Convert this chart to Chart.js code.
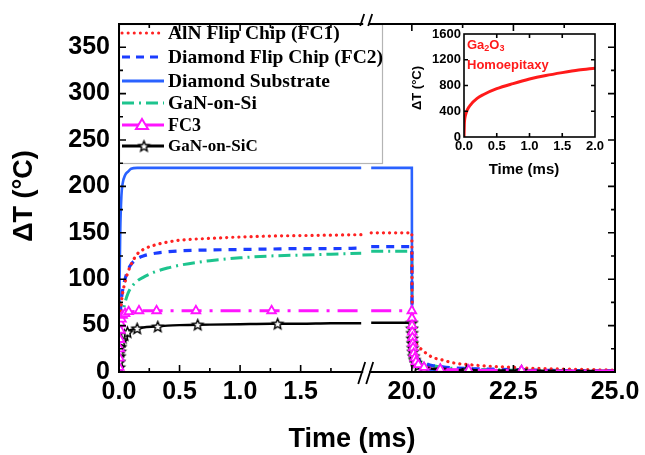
<!DOCTYPE html>
<html>
<head>
<meta charset="utf-8">
<script src="https://cdn.jsdelivr.net/npm/chart.js@4.4.1/dist/chart.umd.min.js"></script>
<style>
  html, body { margin: 0; padding: 0; background: #fff; }
  #wrap { position: relative; width: 645px; height: 455px; }
  #main { position: absolute; left: 0; top: 0; }
  #inset { position: absolute; left: 400px; top: 20px; }
</style>
</head>
<body>
<div id="wrap">
  <canvas id="main" width="645" height="455"></canvas>
  <canvas id="inset" width="215" height="170"></canvas>
</div>
<script>
// time points (ms), shared by all main-plot series
const timeMs = [0, 0.005, 0.01, 0.02, 0.03, 0.05, 0.075, 0.1, 0.15, 0.2, 0.3, 0.4, 0.5, 0.75, 1.0, 1.25, 1.5, 1.75, 2.0,
                19.0, 20.0, 20.005, 20.01, 20.02, 20.05, 20.1, 20.2, 20.3, 20.5, 20.75, 21.0, 21.5, 22.0, 22.5, 23.0, 24.0, 25.0];

const alnFC1     = [0, 40, 60, 75, 85, 97, 108, 116, 127, 132, 137, 140, 142, 144, 145.5, 146.5, 147, 147.5, 148,
                    150, 150, 95, 72, 55, 40, 32, 26, 22, 16, 13, 10, 7.5, 6, 5, 4, 3, 2];
const diamondFC2 = [0, 40, 60, 78, 88, 100, 110, 116, 122, 125, 128, 129.5, 130.5, 131.5, 132, 132.5, 133, 133, 133.5,
                    135, 135, 70, 48, 32, 21, 16, 12, 10, 7, 5.5, 4.5, 3.5, 3, 2.5, 2, 1.5, 1.2];
const diamondSub = [0, 100, 150, 190, 203, 212, 216, 219, 220, 220, 220, 220, 220, 220, 220, 220, 220, 220, 220,
                    220, 220, 60, 32, 16, 8, 5, 3.5, 2.5, 2, 1.5, 1.2, 1, 0.8, 0.7, 0.6, 0.5, 0.5];
const ganOnSi    = [0, 25, 38, 52, 62, 75, 85, 91, 98, 102, 108, 112, 115, 120, 123, 125, 126, 127, 128,
                    130, 130, 62, 42, 29, 19, 14, 11, 9, 7, 5, 4, 3, 2.5, 2, 1.8, 1.4, 1];
const fc3        = [0, 35, 50, 58, 61, 63, 64.5, 65, 65.5, 66, 66, 66, 66, 66, 66, 66, 66, 66, 66,
                    66, 66, 45, 35, 26, 16, 11, 7, 5.5, 4, 3, 2.5, 2, 1.8, 1.5, 1.3, 1.1, 1];
const ganOnSiC   = [0, 20, 28, 35, 38, 42, 44, 45.5, 47, 48, 49, 50, 50.5, 51, 51.5, 52, 52, 52.5, 52.5,
                    53, 53, 40, 31, 23, 14, 9.5, 6.5, 5, 3.5, 2.8, 2.3, 2, 1.7, 1.5, 1.3, 1.1, 1];

// marker positions
const fc3MarkT  = [0.002, 0.004, 0.006, 0.008, 0.011, 0.015, 0.02, 0.03, 0.05, 0.08, 0.165, 0.31, 0.635, 1.26,
                   20.0, 20.003, 20.006, 20.01, 20.015, 20.022, 20.03, 20.045, 20.07, 20.1, 20.16, 20.3, 20.7, 21.4, 22.7];
const fc3MarkV  = [5, 15, 25, 35, 45, 52, 57, 61, 63, 65, 66, 66, 66, 66,
                   66, 58, 50, 43, 37, 31, 26, 20, 15, 11, 8, 5, 3, 2, 1.5];
const sicMarkT  = [0.002, 0.004, 0.006, 0.009, 0.013, 0.02, 0.03, 0.045, 0.07, 0.15, 0.32, 0.65, 1.31,
                   20.0, 20.003, 20.006, 20.01, 20.015, 20.022, 20.03, 20.045, 20.07, 20.1, 20.16, 20.3, 20.7, 21.35, 22.7];
const sicMarkV  = [5, 11, 17, 22, 27, 33, 37, 40, 43, 47, 49, 51, 52,
                   53, 47, 42, 36, 31, 26, 22, 17, 13, 10, 7, 4, 2.5, 2, 1.5];

const xTickLabels = [0, 0.5, 1.0, 1.5, 20, 22.5, 25];
const yTickLabels = [0, 50, 100, 150, 200, 250, 300, 350];

// inset: Ga2O3 homoepitaxy
const insetT = [0, 0.005, 0.01, 0.02, 0.05, 0.1, 0.2, 0.3, 0.5, 0.75, 1.0, 1.25, 1.5, 1.75, 2.0];
const insetV = [0, 200, 270, 330, 420, 500, 600, 660, 750, 830, 900, 955, 1000, 1040, 1070];
const insetXTicks = [0, 0.5, 1.0, 1.5, 2.0];
const insetYTicks = [0, 400, 800, 1200, 1600];

// broken time axis: 0-2 ms on the left, 19-25 ms on the right
const BREAK_L = 2.0, BREAK_R = 19.0, SCALE_L = 121, SCALE_R = 40.6, GAP = 10;
function toAxis(t) {
    return t <= BREAK_L ? t * SCALE_L : BREAK_L * SCALE_L + GAP + (t - BREAK_R) * SCALE_R;
}

function buildPoints(times, values) {
    const pts = [];
    times.forEach((t, i) => {
        if (i > 0 && times[i - 1] <= BREAK_L && t >= BREAK_R) {
            pts.push({ x: toAxis(BREAK_L) + GAP / 2, y: null });
        }
        pts.push({ x: toAxis(t), y: values[i] });
    });
    return pts;
}

function makeStar(r) {
    const size = Math.ceil(2 * r + 4);
    const c = document.createElement('canvas');
    c.width = size; c.height = size;
    const g = c.getContext('2d');
    g.beginPath();
    for (let i = 0; i < 10; i++) {
        const a = -Math.PI / 2 + i * Math.PI / 5;
        const rr = i % 2 ? r * 0.45 : r;
        g.lineTo(size / 2 + rr * Math.cos(a), size / 2 + rr * Math.sin(a) + 0.5);
    }
    g.closePath();
    g.fillStyle = '#fff';
    g.fill();
    g.lineWidth = 1.4;
    g.strokeStyle = '#000';
    g.stroke();
    return c;
}
const starImg = makeStar(5.5);

const RED = '#ff2222', BLUE = '#1b3cff', SUB_BLUE = '#2a62ff', GREEN = '#1dc48e', MAGENTA = '#ff14ff';
const SANS = '"Liberation Sans", Arial, sans-serif';
const SERIF = '"Liberation Serif", "Times New Roman", serif';

const legendItems = [
    { label: 'AlN Flip Chip (FC1)', color: RED, dash: [0.1, 6], cap: 'round', size: 19.5 },
    { label: 'Diamond Flip Chip (FC2)', color: BLUE, dash: [8, 6], cap: 'butt', size: 19.5 },
    { label: 'Diamond Substrate', color: SUB_BLUE, dash: [], cap: 'butt', size: 19.5 },
    { label: 'GaN-on-Si', color: GREEN, dash: [12, 5, 2, 5], cap: 'butt', size: 19.5 },
    { label: 'FC3', color: MAGENTA, dash: [], cap: 'butt', size: 18, marker: 'triangle' },
    { label: 'GaN-on-SiC', color: '#000', dash: [], cap: 'butt', size: 17, marker: 'star' }
];

function lineSet(label, values, color, dash, cap, width, order) {
    return {
        label: label,
        data: buildPoints(timeMs, values),
        borderColor: color,
        borderWidth: width,
        borderDash: dash,
        borderCapStyle: cap,
        pointRadius: 0,
        cubicInterpolationMode: 'monotone',
        fill: false,
        order: order
    };
}

function markSet(times, values, style, color, radius) {
    return {
        data: times.map((t, i) => ({ x: toAxis(t), y: values[i] })),
        showLine: false,
        pointStyle: style,
        pointRadius: radius,
        pointBorderWidth: 1.8,
        pointBorderColor: color,
        pointBackgroundColor: '#fff',
        order: 0
    };
}

// axes frame, inward ticks, break marks, legend box, axis titles
const framePlugin = {
    id: 'frame',
    afterDatasetsDraw(chart) {
        const { ctx, chartArea: a, scales: { x, y } } = chart;
        ctx.save();

        // legend box
        ctx.fillStyle = '#fff';
        ctx.fillRect(a.left, a.top, 263, 139);
        ctx.strokeStyle = '#b4b4b4';
        ctx.lineWidth = 1.2;
        ctx.strokeRect(a.left + 0.5, a.top + 0.5, 263, 139);
        const rowY = [33, 57, 81, 103, 125, 146];
        legendItems.forEach((it, i) => {
            const yy = rowY[i];
            ctx.strokeStyle = it.color;
            ctx.lineWidth = 3;
            ctx.setLineDash(it.dash);
            ctx.lineCap = it.cap;
            ctx.beginPath();
            ctx.moveTo(122, yy);
            ctx.lineTo(164, yy);
            ctx.stroke();
            ctx.setLineDash([]);
            ctx.lineCap = 'butt';
            if (it.marker === 'triangle') {
                ctx.beginPath();
                ctx.moveTo(142, yy - 6);
                ctx.lineTo(148, yy + 4);
                ctx.lineTo(136, yy + 4);
                ctx.closePath();
                ctx.fillStyle = '#fff';
                ctx.fill();
                ctx.lineWidth = 2;
                ctx.strokeStyle = it.color;
                ctx.stroke();
            } else if (it.marker === 'star') {
                ctx.drawImage(starImg, 144 - starImg.width / 2, yy - starImg.height / 2);
            }
            ctx.fillStyle = '#000';
            ctx.font = 'bold ' + it.size + 'px ' + SERIF;
            ctx.textBaseline = 'middle';
            ctx.textAlign = 'left';
            ctx.fillText(it.label, 168, yy + 1);
        });

        // frame
        ctx.strokeStyle = '#000';
        ctx.lineWidth = 2;
        ctx.strokeRect(a.left, a.top, a.right - a.left, a.bottom - a.top);

        // y ticks, both sides
        ctx.lineWidth = 1.6;
        ctx.beginPath();
        for (let v = 25; v < 375; v += 25) {
            const py = y.getPixelForValue(v);
            const len = v % 50 === 0 ? 7 : 4;
            ctx.moveTo(a.left, py); ctx.lineTo(a.left + len, py);
            ctx.moveTo(a.right, py); ctx.lineTo(a.right - len, py);
        }
        // x ticks, both sides
        const xt = [];
        for (let t = 0.25; t < BREAK_L; t += 0.25) xt.push(t);
        for (let t = 20; t < 25; t += 1.25) xt.push(t);
        xt.forEach(t => {
            const px = x.getPixelForValue(toAxis(t));
            const major = Math.abs(t / 0.5 - Math.round(t / 0.5)) < 1e-6 && (t < BREAK_L || Math.abs(t / 2.5 - Math.round(t / 2.5)) < 1e-6);
            const len = major ? 7 : 4;
            ctx.moveTo(px, a.bottom); ctx.lineTo(px, a.bottom - len);
            ctx.moveTo(px, a.top); ctx.lineTo(px, a.top + len);
        });
        ctx.stroke();

        // axis break marks
        const bx = x.getPixelForValue(toAxis(BREAK_L) + GAP / 2);
        ctx.fillStyle = '#fff';
        ctx.fillRect(bx - 3, a.bottom - 2, 6, 4);
        ctx.fillRect(bx - 3, a.top - 2, 6, 4);
        ctx.lineWidth = 1.8;
        ctx.beginPath();
        ctx.moveTo(bx - 8, a.bottom + 12); ctx.lineTo(bx - 1, a.bottom - 10);
        ctx.moveTo(bx + 0, a.bottom + 12); ctx.lineTo(bx + 7, a.bottom - 10);
        ctx.moveTo(bx - 6, a.top + 2); ctx.lineTo(bx - 2, a.top - 10);
        ctx.moveTo(bx + 2, a.top + 2); ctx.lineTo(bx + 6, a.top - 10);
        ctx.stroke();

        // axis titles
        ctx.fillStyle = '#000';
        ctx.font = 'bold 27px ' + SANS;
        ctx.textAlign = 'center';
        ctx.textBaseline = 'middle';
        ctx.fillText('Time (ms)', 352, 440);
        ctx.translate(25, 196);
        ctx.rotate(-Math.PI / 2);
        ctx.fillText('\u0394T (\u00B0C)', 0, 0);
        ctx.restore();
    }
};

const tickFont = { family: SANS, size: 25, weight: 'bold' };

new Chart(document.getElementById('main'), {
    type: 'line',
    data: {
        datasets: [
            lineSet('AlN Flip Chip (FC1)', alnFC1, RED, [0.1, 6], 'round', 3.2, 2),
            lineSet('Diamond Flip Chip (FC2)', diamondFC2, BLUE, [8, 7], 'butt', 3.2, 3),
            lineSet('Diamond Substrate', diamondSub, SUB_BLUE, [], 'butt', 2.6, 4),
            lineSet('GaN-on-Si', ganOnSi, GREEN, [12, 5, 2, 5], 'butt', 3, 5),
            lineSet('FC3', fc3, MAGENTA, [20, 8, 3, 8], 'butt', 3, 1),
            lineSet('GaN-on-SiC', ganOnSiC, '#000', [], 'butt', 2.4, 1),
            markSet(fc3MarkT, fc3MarkV, 'triangle', MAGENTA, 5),
            markSet(sicMarkT, sicMarkV, starImg, '#000', 6)
        ]
    },
    options: {
        responsive: false,
        animation: false,
        layout: { padding: { top: 17, right: 30, left: 0, bottom: 0 } },
        plugins: { legend: { display: false }, tooltip: { enabled: false } },
        scales: {
            x: {
                type: 'linear',
                min: 0,
                max: toAxis(25),
                grid: { display: false, drawTicks: false },
                border: { display: false },
                afterBuildTicks: s => { s.ticks = xTickLabels.map(v => ({ value: toAxis(v) })); },
                afterFit: s => { s.height = 83; },
                ticks: {
                    callback: (v, i) => xTickLabels[i].toFixed(1),
                    font: tickFont, color: '#000', padding: 5,
                    maxRotation: 0, autoSkip: false
                }
            },
            y: {
                min: 0,
                max: 375,
                grid: { display: false, drawTicks: false },
                border: { display: false },
                afterBuildTicks: s => { s.ticks = yTickLabels.map(v => ({ value: v })); },
                afterFit: s => { s.width = 119; },
                ticks: { font: tickFont, color: '#000', padding: 9, callback: v => String(v) }
            }
        }
    },
    plugins: [framePlugin]
});

// inset chart
const insetPlugin = {
    id: 'insetFrame',
    beforeDatasetsDraw(chart) {
        const { ctx, chartArea: a } = chart;
        ctx.save();
        ctx.fillStyle = '#fff';
        ctx.fillRect(a.left, a.top, a.right - a.left, a.bottom - a.top);
        ctx.restore();
    },
    afterDatasetsDraw(chart) {
        const { ctx, chartArea: a, scales: { x, y } } = chart;
        ctx.save();
        ctx.strokeStyle = '#000';
        ctx.lineWidth = 1.6;
        ctx.strokeRect(a.left, a.top, a.right - a.left, a.bottom - a.top);
        ctx.beginPath();
        insetXTicks.slice(1, -1).forEach(v => {
            const px = x.getPixelForValue(v);
            ctx.moveTo(px, a.bottom); ctx.lineTo(px, a.bottom - 4);
            ctx.moveTo(px, a.top); ctx.lineTo(px, a.top + 4);
        });
        insetYTicks.slice(1, -1).forEach(v => {
            const py = y.getPixelForValue(v);
            ctx.moveTo(a.left, py); ctx.lineTo(a.left + 4, py);
            ctx.moveTo(a.right, py); ctx.lineTo(a.right - 4, py);
        });
        ctx.stroke();

        // label
        ctx.fillStyle = '#ff1a1a';
        ctx.textBaseline = 'middle';
        ctx.textAlign = 'left';
        let px = 67;
        const big = 'bold 13px ' + SANS, small = 'bold 9px ' + SANS;
        [['Ga', big, 0], ['2', small, 4], ['O', big, 0], ['3', small, 4]].forEach(([s, f, dy]) => {
            ctx.font = f;
            ctx.fillText(s, px, 25 + dy);
            px += ctx.measureText(s).width;
        });
        ctx.font = big;
        ctx.fillText('Homoepitaxy', 67, 45);

        // titles
        ctx.fillStyle = '#000';
        ctx.textAlign = 'center';
        ctx.font = 'bold 15px ' + SANS;
        ctx.fillText('Time (ms)', 124, 150);
        ctx.font = 'bold 13px ' + SANS;
        ctx.translate(17, 68);
        ctx.rotate(-Math.PI / 2);
        ctx.fillText('\u0394T (\u00B0C)', 0, 0);
        ctx.restore();
    }
};

const insetFont = { family: SANS, size: 13, weight: 'bold' };

new Chart(document.getElementById('inset'), {
    type: 'line',
    data: {
        datasets: [{
            data: insetT.map((t, i) => ({ x: t, y: insetV[i] })),
            borderColor: '#ff1a1a',
            borderWidth: 3,
            pointRadius: 0,
            cubicInterpolationMode: 'monotone'
        }]
    },
    options: {
        responsive: false,
        animation: false,
        layout: { padding: { top: 14, right: 20, left: 0, bottom: 0 } },
        plugins: { legend: { display: false }, tooltip: { enabled: false } },
        scales: {
            x: {
                type: 'linear', min: 0, max: 2,
                grid: { display: false, drawTicks: false },
                border: { display: false },
                afterBuildTicks: s => { s.ticks = insetXTicks.map(v => ({ value: v })); },
                afterFit: s => { s.height = 53; },
                ticks: { callback: v => v.toFixed(1), font: insetFont, color: '#000', padding: 2, maxRotation: 0, autoSkip: false }
            },
            y: {
                min: 0, max: 1600,
                grid: { display: false, drawTicks: false },
                border: { display: false },
                afterBuildTicks: s => { s.ticks = insetYTicks.map(v => ({ value: v })); },
                afterFit: s => { s.width = 64; },
                ticks: { font: insetFont, color: '#000', padding: 3, callback: v => String(v) }
            }
        }
    },
    plugins: [insetPlugin]
});
</script>
</body>
</html>
